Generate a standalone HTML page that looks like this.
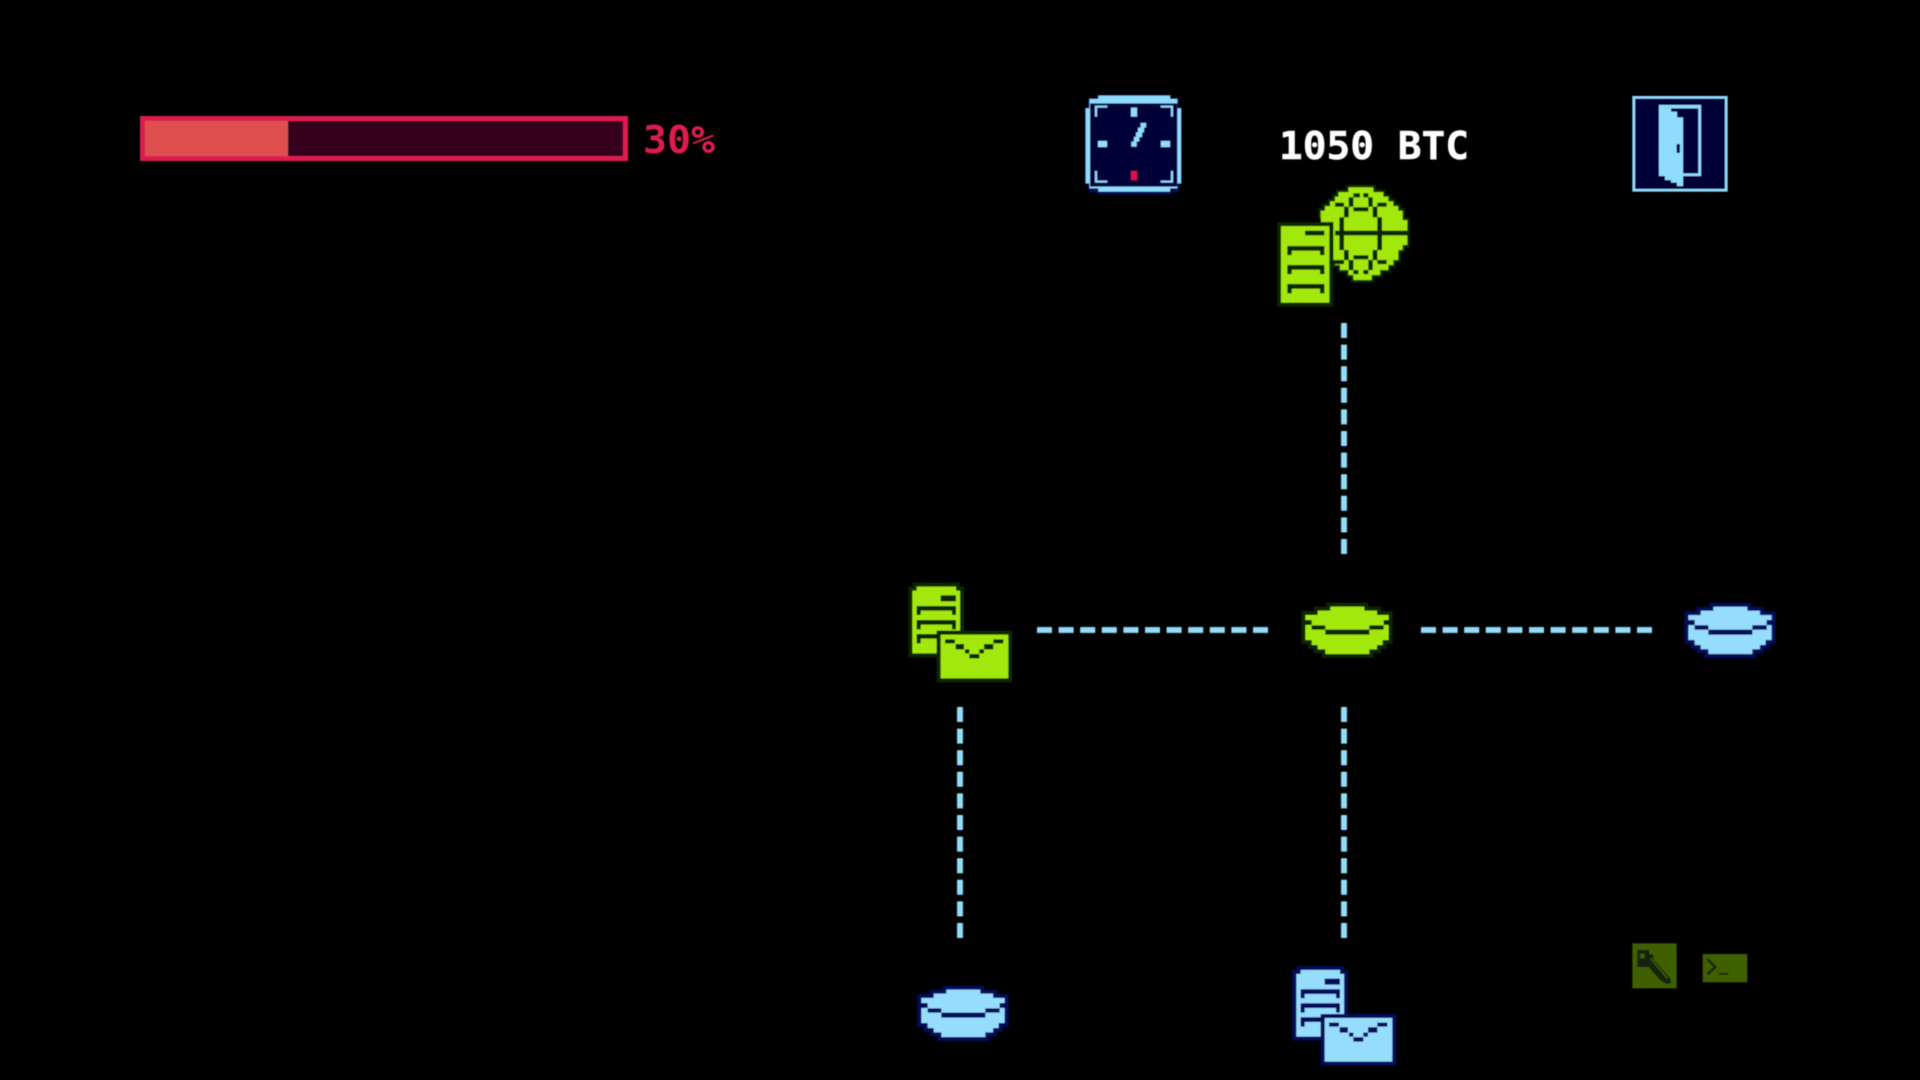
<!DOCTYPE html>
<html lang="en">
<head>
<meta charset="utf-8">
<title>Network map</title>
<style>
html,body{margin:0;padding:0;width:1920px;height:1080px;background:#000;overflow:hidden}
svg{display:block;position:absolute;left:0;top:0}
.f{fill:var(--f);stroke:var(--d);stroke-width:24;stroke-linejoin:miter;paint-order:stroke}
.d{fill:var(--d)}
.g{--f:#a2e80c;--d:#0a2602}
.c{--f:#96dcfc;--d:#04085a}
.ln{stroke:#96dcf8;stroke-width:5;stroke-dasharray:15 6.6;fill:none}
.lo{stroke:#1b5560;stroke-width:7;stroke-dasharray:15 6.6;fill:none}
text{font-family:"DejaVu Sans Mono","Liberation Mono",monospace;font-weight:700}
</style>
</head>
<body>
<svg width="1920" height="1080" viewBox="0 0 1920 1080" xmlns="http://www.w3.org/2000/svg">
<defs>
<filter id="b" x="-5%" y="-5%" width="110%" height="110%"><feGaussianBlur stdDeviation="0.45"/></filter>
<g id="disc">
  <path class="f" d="M118 50H220V62H258V75H293V90H278V105H293V150H275V165H258V178H235V192H103V178H80V165H62V150H43V105H62V90H43V75H80V62H118Z"/>
  <path class="d" d="M62 106H103V119H235V106H278V119H235V134H103V119H62Z"/>
</g>
<g id="mail">
  <path class="f" d="M50 50H168V62H180V250H37V62H50Z"/>
  <path class="d" d="M122 76H168V94H122Z"/>
  <path class="d" d="M50 108H168V135H156V122H62V135H50Z"/>
  <path class="d" d="M50 150H168V178H156V164H62V178H50Z"/>
  <path class="d" d="M50 192H168V220H156V206H62V220H50Z"/>
  <path class="f" d="M122 194H325V325H122Z"/>
  <path class="d" d="M135 208H165V220H135ZM167 222H192V238H167ZM195 238H208V250H195ZM208 252H238V265H208ZM238 238H252V250H238ZM252 222H280V238H252ZM280 208H310V220H280Z"/>
</g>
</defs>
<g filter="url(#b)">
  <!-- progress bar -->
  <rect x="140" y="116" width="488" height="45" fill="#dc1c50"/>
  <rect x="145" y="121" width="478" height="35" fill="#36041c"/>
  <rect x="145" y="121" width="143" height="35" fill="#e05050"/>
  <text x="643" y="153" font-size="38" fill="#dc1c50" textLength="72" lengthAdjust="spacingAndGlyphs">30%</text>

  <!-- clock -->
  <g transform="translate(1070 85) scale(.3333)">
    <path d="M80 29H305V38H326V66H336V298H326V323H305V329H80V323H55V298H44V66H55V38H80Z" fill="#050a50"/>
    <path d="M85 32H300V42H322V70H333V295H322V310H300V320H85V310H58V295H47V70H58V42H85Z" fill="#8fdcff"/>
    <path d="M60 55H322V305H60Z" fill="#020538"/>
    <path d="M75 62H112V68H81V95H75ZM272 62H309V95H303V68H272ZM75 258H81V287H112V293H75ZM303 258H309V293H272V287H303Z" fill="#8fdcff"/>
    <path d="M183 68H201V95H183ZM84 168H111V186H84ZM273 168H300V186H273Z" fill="#8fdcff"/>
    <path d="M183 258H201V285H183Z" fill="#e0104e"/>
    <path d="M212 114H228V128H222V142H216V156H208V170H200V185H184V170H192V156H198V142H204V128H212Z" fill="#8fdcff"/>
  </g>

  <!-- balance -->
  <text x="1279" y="159" font-size="38" fill="#fff" stroke="#fff" stroke-width=".5" textLength="190" lengthAdjust="spacingAndGlyphs">1050 BTC</text>

  <!-- door -->
  <g transform="translate(1620 85) scale(.3333)">
    <rect x="41" y="37" width="278" height="279" fill="#020538" stroke="#8fdcff" stroke-width="8"/>
    <path d="M117 60H243V273H189V265H235V70H135V60Z" fill="#8fdcff"/>
    <path d="M117 60H135V70H153V80H171V97H189V303H171V293H153V285H135V273H117Z" fill="#8fdcff"/>
    <rect x="170" y="177" width="10" height="27" fill="#020538"/>
  </g>

  <!-- globe + server -->
  <g class="g" transform="translate(1270 110) scale(.3333)">
    <path class="f" style="stroke-width:16" d="M235 232H310V246H340V260H355V274H370V288H385V302H398V316V330H412V405H398V420H385V450H370V465H355V480H330V495H305V510H250V495H235V480H210V465H195V450H180V316H152V302H165V288H180V274H195V260H205V246H235Z"/>
    <path class="f" style="stroke:none" d="M152 316H180V405H152Z"/>
    <path class="d" d="M195 362H415V376H195Z"/>
    <path class="d" d="M208 322H222V420H208ZM222 290H236V322H222ZM236 262H250V290H236ZM250 250H270V262H250ZM280 250H295V262H280ZM295 262H308V290H295ZM308 290H322V322H308ZM322 322H336V420H322Z"/>
    <path class="d" d="M222 420H236V450H222ZM236 450H250V480H236ZM250 480H265V492H250ZM280 480H295V492H280ZM295 450H308V480H295ZM308 420H322V450H308Z"/>
    <path class="d" d="M195 278H222V290H195ZM250 292H295V304H250ZM322 278H350V290H322ZM250 436H295V448H250ZM195 450H222V462H195ZM322 450H350V462H322Z"/>
    <path class="f" d="M33 348H178V578H33Z"/>
    <path class="d" d="M105 362H163V376H105Z"/>
    <path class="d" d="M52 408H163V435H150V422H65V435H52Z"/>
    <path class="d" d="M52 465H163V492H150V479H65V492H52Z"/>
    <path class="d" d="M52 522H163V550H150V536H65V550H52Z"/>
  </g>

  <!-- connectors -->
  <g>
    <path class="lo" d="M1344 323V554"/><path class="ln" d="M1344 323V554"/>
    <path class="lo" d="M1037 630H1268"/><path class="ln" d="M1037 630H1268"/>
    <path class="lo" d="M1421 630H1652"/><path class="ln" d="M1421 630H1652"/>
    <path class="lo" d="M1344 707V938"/><path class="ln" d="M1344 707V938"/>
    <path class="lo" d="M960 707V938"/><path class="ln" d="M960 707V938"/>
  </g>

  <!-- nodes -->
  <use href="#mail" class="g" transform="translate(900 570) scale(.3333)"/>
  <use href="#disc" class="g" transform="translate(1291 590) scale(.3333)"/>
  <use href="#disc" class="c" transform="translate(1674 590) scale(.3333)"/>
  <use href="#disc" class="c" transform="translate(907 973) scale(.3333)"/>
  <use href="#mail" class="c" transform="translate(1284 953.3) scale(.3333)"/>

  <!-- tools -->
  <g transform="translate(1620 935) scale(.3333)">
    <rect x="37" y="25" width="133" height="135" fill="#3f6000"/>
    <path d="M52 45H88V58H100V72L152 132V146H138L128 140L120 134L112 126L86 96H52Z" fill="#14210a"/>
    <rect x="60" y="56" width="14" height="14" fill="#3f6000"/>
    <path d="M92 70L142 130" stroke="#3f6000" stroke-width="5" fill="none"/>
    <rect x="248" y="57" width="134" height="85" fill="#3f6000"/>
    <path d="M262 72L286 96L262 118" stroke="#14210a" stroke-width="7" fill="none"/>
    <rect x="296" y="114" width="29" height="5" fill="#14210a"/>
  </g>
</g>
</svg>
</body>
</html>
